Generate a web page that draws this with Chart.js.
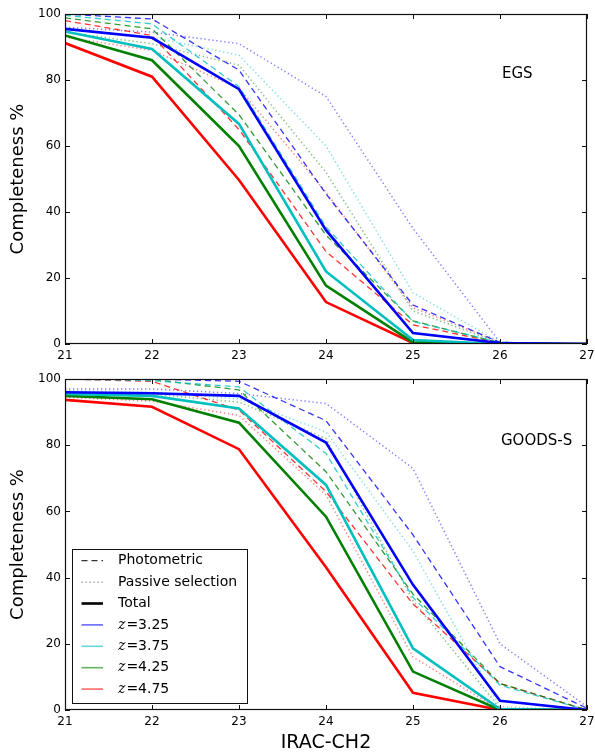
<!DOCTYPE html>
<html>
<head>
<meta charset="utf-8">
<script src="https://cdn.jsdelivr.net/npm/chart.js@4.4.1/dist/chart.umd.min.js"></script>
<style>
  html, body { margin: 0; padding: 0; background: #fff; }
  #wrap { position: relative; width: 595px; height: 754px; }
  canvas { position: absolute; left: 0; }
  #egs { top: 0; }
  #goods { top: 364px; }
</style>
</head>
<body>
<div id="wrap">
  <canvas id="egs" width="595" height="364"></canvas>
  <canvas id="goods" width="595" height="390"></canvas>
</div>
<script>
// IRAC-CH2 magnitude bins
const magnitudes = [21, 22, 23, 24, 25, 26, 27];
const redshifts = ['3.25', '3.75', '4.25', '4.75'];
const xTicks = [21, 22, 23, 24, 25, 26, 27];
const yTicks = [0, 20, 40, 60, 80, 100];

// EGS, one row per redshift
const egsTotal = [
  [95.5, 92.8, 77.2, 34.5, 3.3, 0.3, 0],
  [94.7, 89.4, 66.7, 22.0, 1.2, 0, 0],
  [93.5, 86.0, 60.0, 17.7, 0.5, 0, 0],
  [91.2, 81.0, 49.7, 12.7, 0.3, 0, 0]
];
const egsPhot = [
  [100, 98.5, 83.0, 45.5, 11.8, 0.5, 0],
  [99.6, 97.0, 78.0, 35.5, 6.8, 0.5, 0],
  [98.8, 95.5, 69.5, 33.0, 7.0, 0.3, 0],
  [98.0, 93.5, 65.0, 28.0, 5.8, 0.3, 0]
];
const egsPassive = [
  [96.0, 94.5, 91.0, 75.0, 35.0, 0.5, 0],
  [95.5, 93.0, 87.5, 60.0, 15.5, 0.5, 0],
  [94.5, 91.0, 84.5, 52.0, 10.0, 0.3, 0],
  [93.0, 89.0, 77.5, 46.0, 11.0, 0.5, 0]
];

// GOODS-S
const goodsTotal = [
  [96.0, 95.7, 94.9, 80.8, 37.8, 2.8, 0],
  [95.5, 94.9, 91.1, 68.0, 18.6, 0.3, 0],
  [94.9, 93.9, 86.8, 58.4, 11.6, 0, 0],
  [93.7, 91.6, 78.8, 43.1, 5.2, 0, 0]
];
const goodsPhot = [
  [100, 100, 99.3, 87.4, 52.9, 13.1, 0.5],
  [100, 99.5, 97.6, 77.5, 34.0, 7.5, 0],
  [100, 99.9, 96.7, 72.0, 35.0, 8.0, 0],
  [100, 99.3, 90.6, 66.0, 32.0, 8.0, 0]
];
const goodsPassive = [
  [97.0, 97.0, 95.6, 92.6, 73.0, 20.0, 1.0],
  [96.5, 96.0, 94.0, 84.0, 48.0, 1.0, 0],
  [96.0, 95.5, 93.0, 82.0, 33.0, 0.5, 0],
  [94.5, 93.3, 89.0, 65.0, 16.0, 0, 0]
];

const zColors = [[0, 0, 255], [0, 191, 191], [0, 128, 0], [255, 0, 0]];
const FONT = "'DejaVu Sans', sans-serif";

function rgba(c, a) {
  return 'rgba(' + c[0] + ',' + c[1] + ',' + c[2] + ',' + a + ')';
}

function points(values) {
  return magnitudes.map((m, i) => ({ x: m, y: values[i] }));
}

function buildDatasets(total, phot, passive) {
  const sets = [];
  // first in the array is drawn on top
  total.forEach((v, i) => sets.push({
    label: 'Total z=' + redshifts[i], data: points(v),
    borderColor: rgba(zColors[i], 1), borderWidth: 2.6
  }));
  phot.forEach((v, i) => sets.push({
    label: 'Photometric z=' + redshifts[i], data: points(v),
    borderColor: rgba(zColors[i], 0.8), borderWidth: 1.3, borderDash: [6, 4]
  }));
  passive.forEach((v, i) => sets.push({
    label: 'Passive z=' + redshifts[i], data: points(v),
    borderColor: rgba(zColors[i], 0.5), borderWidth: 1.5, borderDash: [1.3, 2.7]
  }));
  return sets;
}

// box plus inward ticks on all four sides
const framePlugin = {
  id: 'frame',
  afterDatasetsDraw(chart) {
    const { ctx, chartArea: a, scales: { x, y } } = chart;
    const tl = 5;
    ctx.save();
    ctx.strokeStyle = '#111';
    ctx.lineWidth = 1;
    ctx.beginPath();
    xTicks.forEach(v => {
      const px = Math.round(x.getPixelForValue(v)) + 0.5;
      ctx.moveTo(px, a.bottom); ctx.lineTo(px, a.bottom - tl);
      ctx.moveTo(px, a.top); ctx.lineTo(px, a.top + tl);
    });
    yTicks.forEach(v => {
      const py = Math.round(y.getPixelForValue(v)) + 0.5;
      ctx.moveTo(a.left, py); ctx.lineTo(a.left + tl, py);
      ctx.moveTo(a.right, py); ctx.lineTo(a.right - tl, py);
    });
    ctx.stroke();
    ctx.lineWidth = 1.2;
    ctx.strokeRect(a.left + 0.5, a.top + 0.5, a.right - a.left - 1, a.bottom - a.top - 1);
    ctx.restore();
  }
};

const panelLabel = {
  id: 'panelLabel',
  afterDraw(chart, args, opts) {
    const { ctx, chartArea: a } = chart;
    ctx.save();
    ctx.font = '15px ' + FONT;
    ctx.fillStyle = '#000';
    ctx.textBaseline = 'middle';
    ctx.fillText(opts.text, a.left + opts.dx, a.top + opts.dy);
    ctx.restore();
  }
};

const legendBox = {
  id: 'legendBox',
  afterDraw(chart, args, opts) {
    if (!opts.show) return;
    const { ctx, chartArea: a } = chart;
    const bx = a.left + 7, bw = 175, bh = 154;
    const by = a.bottom - 7 - bh;
    ctx.save();
    ctx.fillStyle = '#fff';
    ctx.fillRect(bx, by, bw, bh);
    ctx.strokeStyle = '#111';
    ctx.lineWidth = 1;
    ctx.strokeRect(bx + 0.5, by + 0.5, bw, bh);
    const items = [
      { text: 'Photometric', color: '#333', w: 1.3, dash: [6, 4] },
      { text: 'Passive selection', color: 'rgba(0,0,0,0.5)', w: 1.2, dash: [1.3, 2.7] },
      { text: 'Total', color: '#000', w: 2.6, dash: [] }
    ];
    redshifts.forEach((z, i) => items.push({ z: z, color: rgba(zColors[i], 0.6), w: 1.6, dash: [] }));
    items.forEach((it, i) => {
      const cy = by + 11.7 + i * 21.4;
      ctx.beginPath();
      ctx.setLineDash(it.dash);
      ctx.strokeStyle = it.color;
      ctx.lineWidth = it.w;
      ctx.moveTo(bx + 9.5, cy); ctx.lineTo(bx + 31, cy);
      ctx.stroke();
      ctx.setLineDash([]);
      ctx.fillStyle = '#000';
      ctx.textBaseline = 'middle';
      const tx = bx + 46;
      if (it.z) {
        ctx.font = "italic 14px 'DejaVu Serif', serif";
        ctx.fillText('z', tx, cy);
        const zw = ctx.measureText('z').width;
        ctx.font = '14px ' + FONT;
        ctx.fillText('=' + it.z, tx + zw + 1, cy);
      } else {
        ctx.font = '14px ' + FONT;
        ctx.fillText(it.text, tx, cy);
      }
    });
    ctx.restore();
  }
};

function makeChart(id, datasets, cfg) {
  return new Chart(document.getElementById(id), {
    type: 'line',
    data: { datasets: datasets },
    plugins: [framePlugin, panelLabel, legendBox],
    options: {
      responsive: false,
      animation: false,
      devicePixelRatio: 1,
      layout: { padding: { top: cfg.padTop, right: 8, left: 0, bottom: 0 } },
      elements: {
        line: { tension: 0, fill: false },
        point: { radius: 0, hoverRadius: 0 }
      },
      scales: {
        x: {
          type: 'linear', min: 21, max: 27,
          afterBuildTicks(s) { s.ticks = xTicks.map(v => ({ value: v })); },
          ticks: { padding: 5, color: '#000', font: { family: FONT, size: 12 } },
          grid: { display: false, drawTicks: false },
          border: { display: false },
          title: {
            display: cfg.xTitle, text: 'IRAC-CH2', color: '#000',
            font: { family: FONT, size: 19 }, padding: { top: 0, bottom: 0 }
          },
          afterFit(s) {
            s.height = cfg.xHeight;
            s.paddingLeft = 0;
            s.paddingRight = 0;
          }
        },
        y: {
          min: 0, max: 100,
          afterBuildTicks(s) { s.ticks = yTicks.map(v => ({ value: v })); },
          ticks: { padding: 4, color: '#000', font: { family: FONT, size: 12 } },
          grid: { display: false, drawTicks: false },
          border: { display: false },
          title: {
            display: true, text: 'Completeness %', color: '#000',
            font: { family: FONT, size: 18 }, padding: { top: 8, bottom: 0 }
          },
          afterFit(s) { s.width = 65; }
        }
      },
      plugins: {
        legend: { display: false },
        tooltip: { enabled: false },
        panelLabel: cfg.label,
        legendBox: { show: cfg.legend }
      }
    }
  });
}

makeChart('egs', buildDatasets(egsTotal, egsPhot, egsPassive), {
  padTop: 14, xHeight: 20, xTitle: false, legend: false,
  label: { text: 'EGS', dx: 437, dy: 60 }
});
makeChart('goods', buildDatasets(goodsTotal, goodsPhot, goodsPassive), {
  padTop: 15, xHeight: 44, xTitle: true, legend: true,
  label: { text: 'GOODS-S', dx: 436, dy: 62 }
});
</script>
</body>
</html>
